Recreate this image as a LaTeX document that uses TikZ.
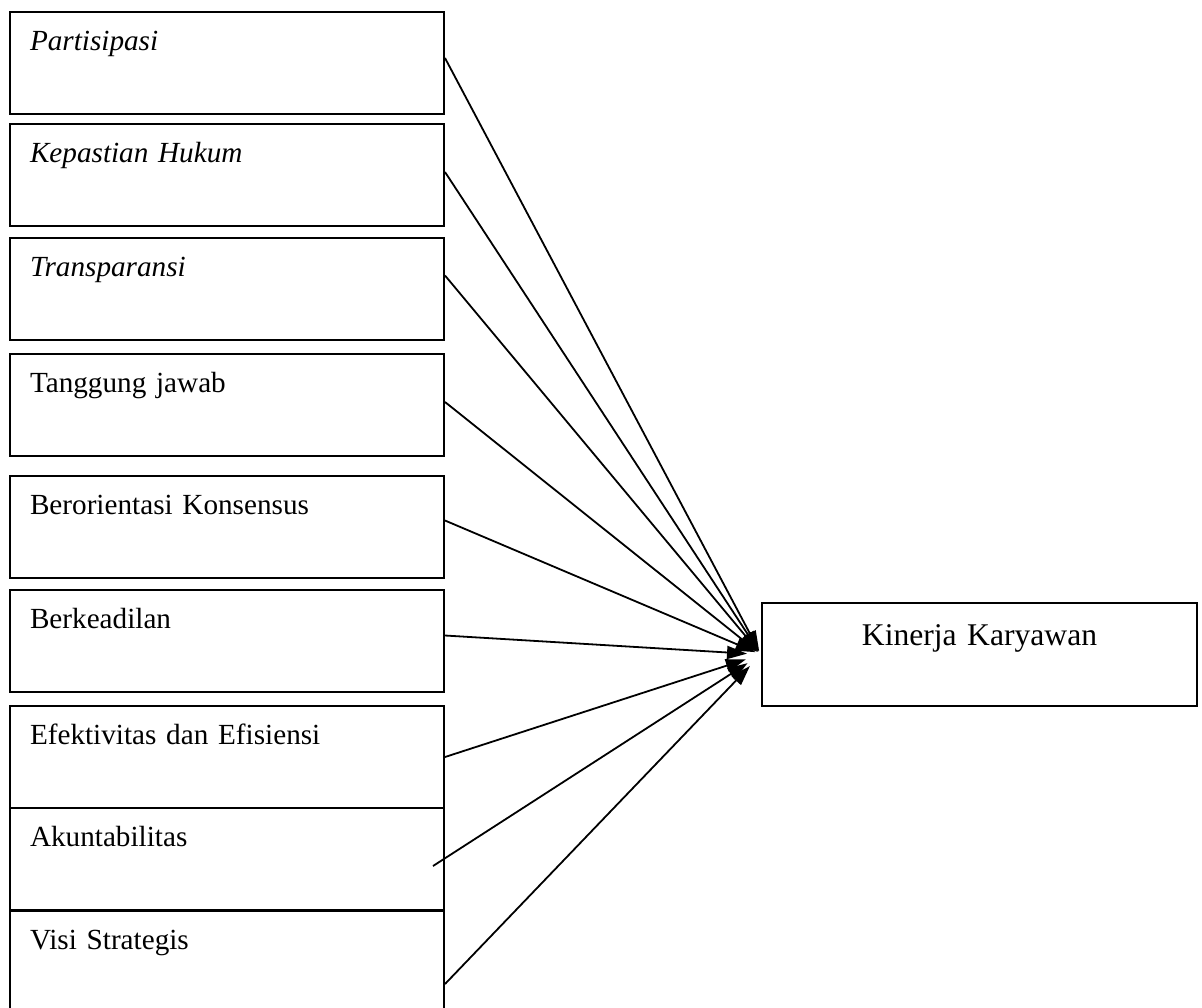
\documentclass[tikz,border=0pt]{standalone}
\usepackage{fontspec}
\setmainfont{Liberation Serif}
\usetikzlibrary{arrows.meta,positioning}

\begin{document}
\begin{tikzpicture}[
    x=0.5pt, y=-0.5pt,
    factorbox/.style={rectangle, draw=black, line width=1pt, fill=white,
      minimum width=217pt, text width=197pt, inner xsep=10pt, inner ysep=0pt,
      text height=19pt, text depth=32pt, align=left,
      font=\fontsize{14.6}{17}\selectfont},
    outcomebox/.style={rectangle, draw=black, line width=1pt, fill=white,
      minimum width=217.5pt, text width=197.5pt, inner xsep=10pt, inner ysep=0pt,
      text height=21pt, text depth=30.5pt, align=center,
      font=\fontsize{15.8}{18}\selectfont},
    infarrow/.style={-{Triangle[length=10pt,width=6.5pt]}, draw=black,
      line width=0.9pt}
  ]
  \useasboundingbox (0,0) rectangle (1202,1007);

  % ============ Left column: good governance factors ============
  \node[factorbox, font=\fontsize{14.6}{17}\selectfont\itshape] (part) at (227, 63) {Partisipasi};
  \node[factorbox, font=\fontsize{14.6}{17}\selectfont\itshape] (kep)  at (227,175) {Kepastian Hukum};
  \node[factorbox, font=\fontsize{14.6}{17}\selectfont\itshape] (trans) at (227,289) {Transparansi};
  \node[factorbox] (tang) at (227,405) {Tanggung jawab};
  \node[factorbox] (bero) at (227,527) {Berorientasi Konsensus};
  \node[factorbox] (berk) at (227,641) {Berkeadilan};
  \node[factorbox] (efek) at (227,757) {Efektivitas dan Efisiensi};
  \node[factorbox] (akun) at (227,859) {Akuntabilitas};
  \node[factorbox] (visi) at (227,962) {Visi Strategis};

  % ============ Right: outcome ============
  \node[outcomebox] (kin) at (979.5,654.5) {Kinerja Karyawan};

  % ============ Arrows (all into Kinerja Karyawan) ============
  \draw[infarrow, shorten >=2pt] ([yshift=2.5pt]part.east)  -- (kin.west);
  \draw[infarrow, shorten >=2pt] ([yshift=1.5pt]kep.east)   -- (kin.west);
  \draw[infarrow, shorten >=2pt] ([yshift=6.75pt]trans.east) -- (kin.west);
  \draw[infarrow, shorten >=2pt] ([yshift=1.5pt]tang.east)  -- (kin.west);
  \draw[infarrow, shorten >=3pt] ([yshift=3.25pt]bero.east) -- (kin.west);
  \draw[infarrow, shorten >=7pt] ([yshift=2.75pt]berk.east) -- (kin.west);
  \draw[infarrow, shorten >=8pt] (efek.east) -- (kin.west);
  % Akuntabilitas: line starts a little inside its box
  \draw[infarrow, shorten >=8pt] ([xshift=-6pt,yshift=-3.5pt]akun.east) -- (kin.west);
  \draw[infarrow, shorten >=8pt] ([yshift=-11pt]visi.east)  -- (kin.west);

\end{tikzpicture}
\end{document}
